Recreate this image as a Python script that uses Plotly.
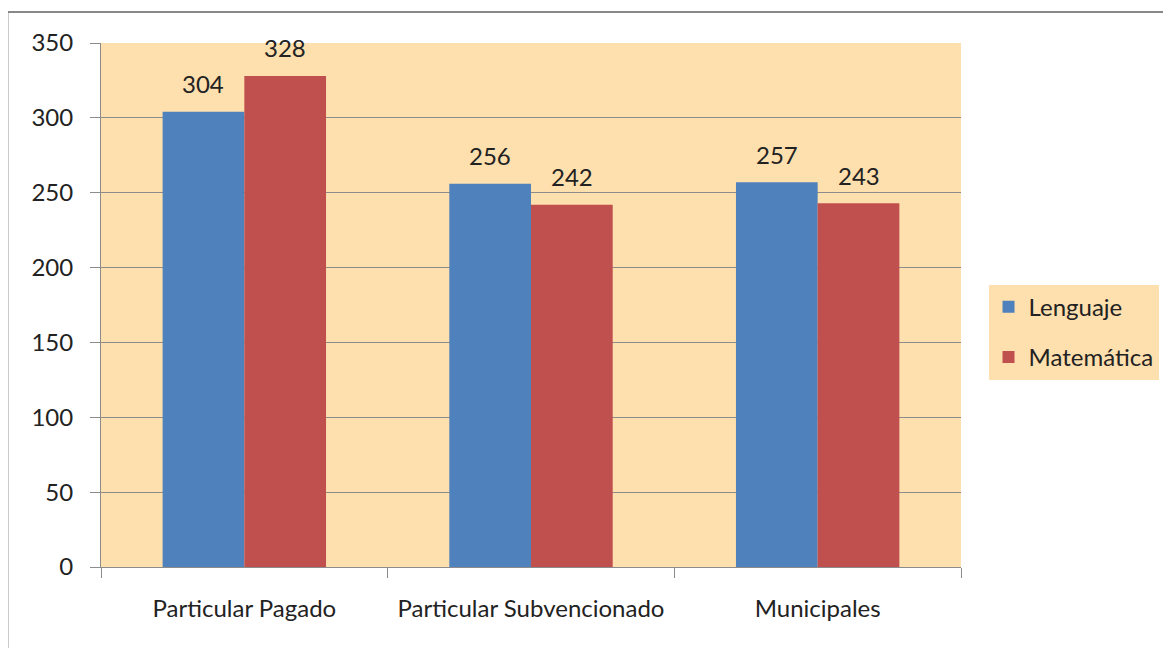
import plotly.graph_objects as go

categories = ["Particular Pagado", "Particular Subvencionado", "Municipales"]
lenguaje = [304, 256, 257]
matematica = [328, 242, 243]
y_ticks = [0, 50, 100, 150, 200, 250, 300, 350]

FONT = "Lato, 'Open Sans', sans-serif"
PEACH = "#FEDFAE"
TXT = "#222"

fig = go.Figure()
fig.add_trace(go.Bar(name="Lenguaje", x=categories, y=lenguaje, marker_color="#4F81BD",
                     marker_line_width=0, legendgroup="a"))
fig.add_trace(go.Bar(name="Matemática", x=categories, y=matematica, marker_color="#C0504D",
                     marker_line_width=0, legendgroup="b"))

annotations = []
for c, v in zip(categories, lenguaje):
    annotations.append(dict(x=c, y=v, xref="x", yref="y", text=str(v), showarrow=False,
                            xshift=-41, yshift=28, font=dict(size=24, color=TXT)))
for c, v in zip(categories, matematica):
    annotations.append(dict(x=c, y=v, xref="x", yref="y", text=str(v), showarrow=False,
                            xshift=41, yshift=28, font=dict(size=24, color=TXT)))

fig.update_layout(
    width=1163, height=640,
    margin=dict(l=93, r=206, t=35, b=81),
    barmode="group", bargap=0.43, bargroupgap=0,
    plot_bgcolor=PEACH, paper_bgcolor="white",
    font=dict(family=FONT, size=24, color=TXT),
    legend=dict(x=1.032, xanchor="left", y=0.448, yanchor="middle",
                bgcolor=PEACH, font=dict(size=24, color=TXT),
                traceorder="grouped", tracegroupgap=16, itemwidth=30),
    annotations=annotations,
    shapes=[dict(type="rect", xref="paper", yref="paper",
                 x0=-0.1088, x1=1.25, y0=-0.2, y1=1.0592,
                 line=dict(color="#888", width=2), layer="below")],
)
fig.update_yaxes(range=[0, 350], tickvals=y_ticks, showgrid=True, gridcolor="#8c8c8c",
                 gridwidth=1, ticks="outside", ticklen=10, tickcolor="#8c8c8c",
                 showline=True, linecolor="#8c8c8c", zeroline=False,
                 tickfont=dict(size=24), ticklabelstandoff=12)
fig.update_xaxes(ticks="outside", tickson="boundaries", ticklen=10, tickcolor="#8c8c8c",
                 showline=True, linecolor="#8c8c8c", tickfont=dict(size=24),
                 ticklabelstandoff=20)

fig.write_html("out.html")
